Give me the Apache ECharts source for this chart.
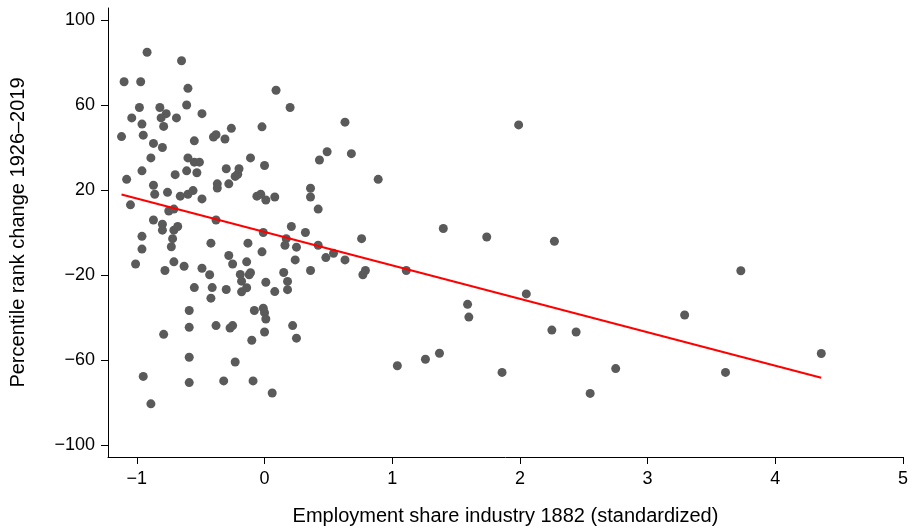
<!DOCTYPE html>
<html><head><meta charset="utf-8">
<script src="https://cdn.jsdelivr.net/npm/echarts@6/dist/echarts.min.js"></script>
<style>html,body{margin:0;padding:0;background:#fff}#c{width:918px;height:531px}</style>
</head><body><div id="c"></div>
<script>
// Employment share industry 1882 (standardized)
var xVals = [
-0.92,-0.65,-1.10,-0.97,-0.60,-0.98,-0.82,-0.61,-0.77,-0.81,-1.04,-0.69,-0.49,-0.96,-0.79,-1.12,-0.95,-0.87,-0.80,-0.55,-0.40,-0.38,-0.31,-0.26,-0.02,-0.89,-0.60,-0.55,-0.51,-0.11,
0.09,0.20,0.63,0.49,0.68,0.43,0.00,
-0.96,-0.70,-0.61,-0.53,-0.30,-0.20,-0.23,-0.21,-1.08,-0.87,-0.86,-0.76,-0.66,-0.60,-0.56,-0.49,-0.37,-0.37,-0.28,-0.06,-0.03,0.01,-1.05,-0.75,-0.71,-0.38,-0.87,-0.80,-0.80,-0.71,-0.68,-0.72,-0.96,-0.01,-0.96,-0.73,-0.42,-0.13,-1.01,-0.78,-0.71,-0.63,-0.49,-0.43,-0.28,-0.25,-0.14,-0.02,-0.19,-0.11,-0.12,0.01,
0.89,0.36,0.36,0.08,0.42,0.21,0.32,0.17,0.16,0.25,0.42,0.76,0.24,0.48,0.54,0.63,0.36,0.15,0.18,0.79,0.77,1.11,
-0.18,-0.55,-0.41,-0.30,-0.18,-0.14,-0.42,-0.59,-0.08,-0.01,0.00,0.01,-0.59,-0.38,-0.27,-0.25,0.00,-0.10,-0.79,-0.59,-0.23,-0.95,-0.59,-0.32,-0.09,0.06,-0.89,
0.08,0.18,0.22,0.25,1.04,1.26,
1.99,1.40,1.74,2.27,3.73,2.05,1.59,1.60,2.25,2.44,3.29,1.37,1.86,2.75,2.55,3.61,4.36
];
// Percentile rank change 1926–2019
var yVals = [
84.8,80.8,70.9,70.9,67.8,58.8,58.8,60.0,55.9,53.9,53.9,53.9,55.9,51.0,49.9,45.1,45.8,41.9,40.0,43.1,44.9,46.0,44.0,49.0,49.7,35.1,35.1,33.1,33.1,35.1,
66.9,58.8,51.9,38.0,37.1,34.1,31.5,
29.0,27.2,29.0,28.1,30.0,30.0,26.4,27.4,25.0,22.2,18.0,18.9,17.1,18.0,19.7,15.8,22.9,20.9,22.9,17.1,18.0,15.3,13.0,10.1,11.0,5.9,5.9,3.9,1.1,1.1,2.8,-2.9,-1.8,0.0,-7.8,-6.7,-5.0,-5.0,-14.8,-17.9,-13.8,-15.9,-16.8,-19.9,-10.8,-14.8,-13.8,-9.1,-19.7,-18.9,-19.9,-23.4,
25.0,20.8,16.7,16.7,11.0,2.8,0.0,-2.9,-6.0,-6.9,-6.0,-2.9,-12.9,-11.8,-9.8,-12.9,-17.9,-18.8,-23.0,-17.9,-19.9,-17.9,
-22.9,-25.9,-25.9,-26.8,-27.9,-26.0,-30.9,-36.7,-36.7,-35.6,-37.7,-40.7,-44.6,-43.8,-44.9,-43.8,-46.8,-50.7,-47.9,-58.7,-60.9,-67.7,-70.6,-69.8,-69.8,-75.5,-80.6,
-27.8,-26.9,-43.8,-49.7,-62.7,-59.6,
50.6,1.9,-2.1,-4.1,-18.0,-28.9,-33.8,-39.8,-45.9,-46.8,-38.8,-56.8,-65.8,-64.0,-75.7,-65.8,-56.9
];
// fitted line endpoints
var fitX = [-1.12, 4.36];
var fitY = [17.9, -68.3];
var xTicks = [-1, 0, 1, 2, 3, 4, 5];
var yTicks = [-100, -60, -20, 20, 60, 100];

function fmt(v){ return v < 0 ? '\u2212' + Math.abs(v) : String(v); }

var pts = xVals.map(function(x,i){ return [x, yVals[i]]; });
var fitPts = fitX.map(function(x,i){ return [x, fitY[i]]; });

var chart = echarts.init(document.getElementById('c'), null, {renderer:'canvas'});
var font = 'Liberation Sans, Arial, sans-serif';
chart.setOption({
  animation: false,
  backgroundColor: '#fff',
  grid: {left: 104, right: 15, top: 8, bottom: 68, containLabel: false},
  xAxis: {
    type: 'value', min: -1.226, max: 5.0,
    name: 'Employment share industry 1882 (standardized)',
    nameLocation: 'middle', nameGap: 49,
    nameTextStyle: {fontFamily: font, fontSize: 20, color: '#000'},
    axisLine: {show: true, onZero: false, lineStyle: {color: '#000', width: 1}},
    axisTick: {show: true, length: 7, inside: false, customValues: xTicks, lineStyle: {color: '#000'}},
    axisLabel: {customValues: xTicks, formatter: fmt, fontFamily: font, fontSize: 18, color: '#000', margin: 13},
    splitLine: {show: false}
  },
  yAxis: {
    type: 'value', min: -105.6, max: 105.6,
    name: 'Percentile rank change 1926\u20132019',
    nameLocation: 'middle', nameGap: 80, nameRotate: 90,
    nameTextStyle: {fontFamily: font, fontSize: 20, color: '#000'},
    axisLine: {show: true, onZero: false, lineStyle: {color: '#000', width: 1}},
    axisTick: {show: true, length: 7, inside: false, customValues: yTicks, lineStyle: {color: '#000'}},
    axisLabel: {customValues: yTicks, formatter: fmt, fontFamily: font, fontSize: 18, color: '#000', margin: 13},
    splitLine: {show: false}
  },
  series: [
    {type: 'scatter', data: pts, symbol: 'circle', symbolSize: 9,
     itemStyle: {color: '#5a5a5a', opacity: 1}, z: 2},
    {type: 'line', data: fitPts, symbol: 'none', lineStyle: {color: '#ff0000', width: 2}, z: 3}
  ]
});
</script>
</body></html>
